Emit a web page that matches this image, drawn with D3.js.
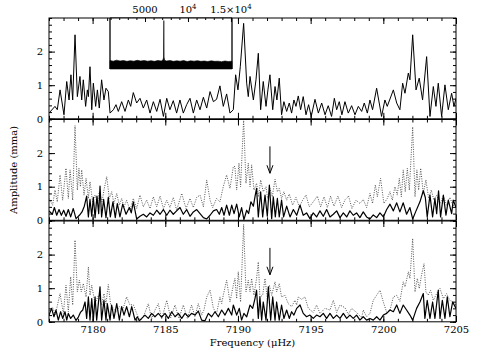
<!DOCTYPE html>
<html>
<head>
<meta charset="utf-8">
<script src="https://cdn.jsdelivr.net/npm/d3@7"></script>
<style>
  body { margin: 0; background: #fff; }
  text { font-family: "DejaVu Serif", serif; font-size: 10px; fill: #000; }
</style>
</head>
<body>
<svg id="chart" width="485" height="363"></svg>
<script>
// ---- data (frequency in µHz, amplitude in mma) ----
const xTicks = [7180, 7185, 7190, 7195, 7200, 7205];
const yTicks = [0, 1, 2];
const insetTicks = [5000, 10000, 15000];
const insetTickLabels = [["5000", ""], ["10", "4"], ["1.5×10", "4"]];

// top panel: amplitude spectrum of the data
const topFreq = [7177.00,7177.41,7177.57,7177.76,7178.03,7178.22,7178.38,7178.51,7178.63,7178.79,
  7178.95,7179.13,7179.25,7179.36,7179.52,7179.64,7179.71,7179.82,7179.94,7180.05,
  7180.21,7180.33,7180.46,7180.62,7180.78,7180.92,7181.08,7181.20,7181.43,7181.61,
  7181.77,7182.00,7182.23,7182.46,7182.62,7182.80,7183.03,7183.26,7183.49,7183.72,
  7183.95,7184.18,7184.41,7184.64,7184.87,7185.10,7185.32,7185.55,7185.78,7186.01,
  7186.24,7186.47,7186.70,7186.93,7187.16,7187.39,7187.62,7187.85,7188.08,7188.31,
  7188.53,7188.76,7188.99,7189.22,7189.45,7189.68,7189.84,7190.00,7190.16,7190.39,
  7190.60,7190.71,7190.83,7191.06,7191.24,7191.40,7191.56,7191.74,7191.93,7192.06,
  7192.20,7192.39,7192.55,7192.68,7192.84,7193.00,7193.16,7193.35,7193.53,7193.69,
  7193.85,7193.99,7194.15,7194.31,7194.49,7194.68,7194.86,7195.04,7195.30,7195.53,
  7195.76,7195.99,7196.21,7196.44,7196.63,7196.79,7196.97,7197.15,7197.36,7197.59,
  7197.82,7198.05,7198.28,7198.51,7198.69,7198.90,7199.08,7199.26,7199.54,7199.88,
  7200.11,7200.27,7200.69,7200.92,7201.14,7201.33,7201.49,7201.72,7201.83,7202.02,
  7202.25,7202.47,7202.70,7202.98,7203.21,7203.44,7203.62,7203.78,7204.01,7204.24,
  7204.47,7204.70,7204.86,7205.00];
const topAmp = [0.17,0.37,0.27,0.86,0.12,1.11,0.56,1.31,0.56,2.50,
  0.66,1.26,0.56,1.16,0.37,0.86,0.66,1.55,0.27,1.06,
  0.37,0.86,0.32,1.16,0.56,0.91,0.81,0.17,0.27,0.42,
  0.22,0.51,0.22,0.56,0.37,0.78,0.47,0.61,0.32,0.56,
  0.17,0.51,0.22,0.58,0.07,0.61,0.27,0.54,0.17,0.56,
  0.17,0.42,0.61,0.17,0.56,0.27,0.64,0.32,0.81,0.51,
  0.58,0.98,0.37,0.74,0.17,0.27,1.31,0.86,1.55,2.84,
  1.06,0.66,1.26,0.56,1.16,1.95,0.27,1.11,0.37,0.86,
  1.31,0.27,0.96,0.56,1.21,0.12,0.51,0.22,0.47,0.17,
  0.56,0.37,0.68,0.27,0.66,0.12,0.42,0.07,0.58,0.17,
  0.47,0.12,0.39,0.07,0.61,0.27,0.51,0.12,0.51,0.17,
  0.39,0.12,0.37,0.22,0.47,0.17,0.56,0.27,0.91,0.07,
  0.56,0.37,0.86,0.47,0.27,1.06,0.76,1.36,1.16,2.50,
  0.86,1.21,0.56,1.85,0.07,0.96,0.37,1.06,0.07,1.01,
  0.27,0.76,0.37,0.61];

// middle panel: residuals (solid) and original spectrum (dotted)
const midFreq = [7177.00,7177.23,7177.37,7177.53,7177.69,7177.85,7178.01,7178.17,7178.33,7178.49,
  7178.67,7178.86,7179.09,7179.27,7179.43,7179.59,7179.71,7179.82,7179.94,7180.05,
  7180.17,7180.30,7180.42,7180.51,7180.62,7180.76,7180.92,7181.08,7181.22,7181.40,
  7181.56,7181.70,7181.88,7182.07,7182.30,7182.53,7182.66,7182.80,7183.03,7183.26,
  7183.49,7183.72,7183.95,7184.18,7184.41,7184.64,7184.87,7185.10,7185.32,7185.55,
  7185.78,7186.01,7186.24,7186.47,7186.70,7186.93,7187.16,7187.39,7187.62,7187.85,
  7188.08,7188.31,7188.53,7188.72,7188.88,7189.04,7189.22,7189.41,7189.57,7189.73,
  7189.91,7190.09,7190.25,7190.41,7190.60,7190.73,7190.89,7191.06,7191.19,7191.28,
  7191.40,7191.56,7191.70,7191.86,7192.02,7192.16,7192.32,7192.43,7192.57,7192.71,
  7192.84,7193.00,7193.14,7193.35,7193.58,7193.81,7194.04,7194.27,7194.49,7194.72,
  7194.95,7195.18,7195.41,7195.64,7195.87,7196.10,7196.33,7196.56,7196.79,7197.02,
  7197.25,7197.48,7197.70,7197.93,7198.16,7198.39,7198.62,7198.85,7199.08,7199.31,
  7199.54,7199.77,7200.00,7200.23,7200.46,7200.69,7200.92,7201.14,7201.37,7201.60,
  7201.83,7202.02,7202.25,7202.52,7202.75,7202.89,7203.02,7203.21,7203.39,7203.55,
  7203.67,7203.80,7203.94,7204.13,7204.31,7204.47,7204.70,7204.81,7205.00];
const midAmp = [0.28,0.18,0.38,0.15,0.32,0.15,0.30,0.12,0.32,0.10,
  0.35,0.05,0.15,0.25,0.42,0.72,0.10,0.62,0.12,0.68,
  0.08,0.72,0.20,1.02,0.10,0.62,0.08,0.68,0.10,0.55,
  0.08,0.50,0.10,0.48,0.18,0.38,0.22,0.55,0.04,0.12,
  0.18,0.10,0.22,0.15,0.30,0.18,0.32,0.15,0.30,0.18,
  0.28,0.38,0.18,0.32,0.12,0.25,0.32,0.20,0.08,0.04,
  0.15,0.28,0.32,0.18,0.38,0.15,0.45,0.15,0.45,0.20,
  0.48,0.10,0.38,0.02,0.30,0.20,0.55,0.42,0.75,0.95,
  0.10,0.85,0.10,0.75,0.12,1.05,0.05,0.70,0.10,0.65,
  0.10,0.60,0.10,0.42,0.10,0.32,0.15,0.45,0.15,0.22,
  0.05,0.22,0.10,0.28,0.12,0.32,0.10,0.18,0.28,0.08,
  0.22,0.10,0.28,0.15,0.22,0.08,0.25,0.10,0.04,0.16,
  0.08,0.22,0.10,0.32,0.48,0.28,0.52,0.25,0.52,0.18,
  0.38,0.04,0.28,0.55,0.88,0.68,0.10,0.75,0.10,0.65,
  0.20,0.88,0.10,0.75,0.15,0.60,0.20,0.60,0.38];

const midDotFreq = [7177.00,7177.25,7177.41,7177.57,7177.76,7177.94,7178.17,7178.33,7178.45,7178.63,
  7178.79,7178.95,7179.06,7179.16,7179.25,7179.41,7179.55,7179.71,7179.82,7180.00,
  7180.17,7180.33,7180.46,7180.65,7180.78,7180.97,7181.15,7181.31,7181.47,7181.66,
  7181.84,7182.00,7182.16,7182.34,7182.57,7182.80,7183.03,7183.26,7183.49,7183.72,
  7183.95,7184.18,7184.41,7184.64,7184.87,7185.10,7185.32,7185.55,7185.78,7186.13,
  7186.43,7186.70,7186.93,7187.16,7187.39,7187.62,7187.85,7188.08,7188.26,7188.53,
  7188.76,7188.99,7189.22,7189.45,7189.68,7189.79,7189.91,7190.07,7190.18,7190.39,
  7190.55,7190.71,7190.83,7190.94,7191.10,7191.28,7191.42,7191.56,7191.74,7191.93,
  7192.04,7192.20,7192.36,7192.55,7192.71,7192.84,7193.00,7193.16,7193.35,7193.53,
  7193.76,7193.99,7194.22,7194.45,7194.68,7194.91,7195.18,7195.46,7195.69,7195.92,
  7196.15,7196.37,7196.60,7196.88,7197.13,7197.38,7197.61,7197.84,7198.12,7198.39,
  7198.62,7198.85,7199.08,7199.26,7199.45,7199.59,7199.81,7200.04,7200.27,7200.46,
  7200.62,7200.80,7200.96,7201.10,7201.24,7201.37,7201.51,7201.65,7201.79,7202.02,
  7202.18,7202.31,7202.43,7202.57,7202.75,7202.93,7203.12,7203.30,7203.48,7203.67,
  7203.90,7204.13,7204.35,7204.58,7204.81,7205.00];
const midDotAmp = [0.65,0.45,0.90,0.55,1.35,0.60,1.55,0.65,1.50,0.60,
  2.82,0.90,1.55,1.00,1.50,0.75,1.25,0.65,1.15,0.55,
  0.75,0.50,0.85,0.55,0.90,1.30,0.65,0.85,0.50,0.80,
  0.45,0.65,0.40,0.60,0.30,0.65,0.35,0.75,0.40,0.60,
  0.35,0.70,0.40,0.72,0.35,0.60,0.38,0.68,0.30,0.80,
  0.35,0.65,0.38,0.68,0.75,0.40,1.20,0.60,0.38,0.65,
  0.55,1.00,1.35,0.95,1.60,1.60,0.90,1.70,1.00,3.00,
  1.10,1.70,1.00,1.65,0.90,1.10,0.70,1.20,0.85,1.00,
  0.65,0.95,0.70,1.22,0.85,0.95,0.65,0.85,0.60,0.78,
  0.45,0.68,0.40,0.60,0.75,0.40,0.55,0.72,0.40,0.70,
  0.38,0.72,0.42,0.72,0.38,0.62,0.72,0.35,0.60,0.50,
  0.62,0.38,0.80,0.50,1.05,0.70,1.25,0.50,0.65,0.85,
  0.60,1.00,0.75,1.25,0.70,1.50,0.85,1.55,0.90,2.78,
  0.70,1.50,0.90,1.55,0.80,1.20,0.65,0.90,0.60,0.75,
  0.50,0.72,0.45,0.68,0.42,0.60];

// bottom panel: residuals (solid) and original spectrum (dotted)
const botFreq = [7177.00,7177.18,7177.34,7177.48,7177.64,7177.80,7177.94,7178.10,7178.22,7178.33,
  7178.49,7178.67,7178.86,7179.02,7179.16,7179.32,7179.48,7179.59,7179.71,7179.82,
  7179.94,7180.05,7180.17,7180.28,7180.51,7180.62,7180.78,7180.92,7181.01,7181.20,
  7181.31,7181.47,7181.66,7181.84,7182.00,7182.16,7182.34,7182.53,7182.69,7182.92,
  7183.08,7183.21,7183.38,7183.60,7183.83,7184.06,7184.29,7184.52,7184.75,7184.98,
  7185.21,7185.44,7185.67,7185.90,7186.13,7186.36,7186.59,7186.81,7187.04,7187.27,
  7187.50,7187.73,7187.96,7188.19,7188.42,7188.65,7188.88,7189.11,7189.34,7189.57,
  7189.68,7189.91,7190.09,7190.25,7190.41,7190.60,7190.83,7191.01,7191.17,7191.28,
  7191.40,7191.51,7191.63,7191.74,7191.93,7192.09,7192.25,7192.39,7192.55,7192.66,
  7192.84,7193.00,7193.16,7193.35,7193.53,7193.69,7193.85,7194.04,7194.27,7194.49,
  7194.72,7194.95,7195.18,7195.41,7195.64,7195.87,7196.10,7196.33,7196.56,7196.79,
  7197.02,7197.25,7197.48,7197.70,7197.93,7198.16,7198.39,7198.62,7198.85,7199.08,
  7199.31,7199.54,7199.77,7200.00,7200.23,7200.46,7200.69,7200.92,7201.14,7201.37,
  7201.60,7201.83,7202.02,7202.29,7202.52,7202.75,7202.86,7203.02,7203.21,7203.39,
  7203.55,7203.78,7203.90,7204.06,7204.24,7204.40,7204.58,7204.77,7205.00];
const botAmp = [0.20,0.40,0.15,0.35,0.05,0.30,0.10,0.30,0.05,0.25,
  0.10,0.20,0.04,0.14,0.28,0.35,0.59,0.10,0.74,0.05,
  0.69,0.05,0.74,0.05,1.04,0.05,0.64,0.05,0.54,0.05,
  0.50,0.10,0.54,0.05,0.45,0.20,0.45,0.15,0.45,0.05,
  0.15,0.03,0.10,0.20,0.10,0.25,0.15,0.25,0.14,0.25,
  0.10,0.30,0.15,0.25,0.10,0.25,0.15,0.25,0.20,0.32,
  0.05,0.03,0.25,0.15,0.30,0.15,0.35,0.20,0.40,0.20,
  0.50,0.20,0.40,0.05,0.25,0.15,0.50,0.40,0.69,0.94,
  0.10,0.74,0.05,0.59,0.05,1.04,0.05,0.74,0.05,0.59,
  0.05,0.50,0.10,0.35,0.10,0.30,0.20,0.40,0.50,0.25,
  0.15,0.20,0.10,0.20,0.15,0.25,0.10,0.25,0.10,0.20,
  0.10,0.25,0.10,0.20,0.10,0.20,0.05,0.15,0.05,0.10,
  0.05,0.15,0.05,0.20,0.25,0.35,0.30,0.50,0.25,0.50,
  0.35,0.20,0.05,0.40,0.59,0.84,0.10,0.64,0.10,0.59,
  0.10,0.94,0.10,0.64,0.10,0.74,0.15,0.59,0.40];

const botDotFreq = [7177.00,7177.25,7177.44,7177.76,7177.99,7178.17,7178.33,7178.49,7178.63,7178.79,
  7178.95,7179.09,7179.22,7179.36,7179.55,7179.71,7179.82,7179.94,7180.17,7180.40,
  7180.62,7180.78,7180.92,7181.08,7181.24,7181.43,7181.61,7181.84,7182.07,7182.34,
  7182.57,7182.80,7183.03,7183.26,7183.54,7183.83,7184.06,7184.29,7184.52,7184.75,
  7185.10,7185.37,7185.67,7185.94,7186.24,7186.52,7186.81,7187.04,7187.27,7187.50,
  7187.66,7187.85,7188.08,7188.31,7188.53,7188.76,7188.88,7188.99,7189.22,7189.45,
  7189.68,7189.79,7189.91,7190.02,7190.18,7190.39,7190.55,7190.71,7190.83,7190.94,
  7191.10,7191.28,7191.40,7191.51,7191.70,7191.86,7192.02,7192.16,7192.32,7192.55,
  7192.66,7192.84,7193.00,7193.23,7193.46,7193.69,7193.92,7194.04,7194.15,7194.38,
  7194.61,7194.84,7195.18,7195.41,7195.64,7195.99,7196.33,7196.56,7196.79,7197.02,
  7197.36,7197.59,7197.82,7198.16,7198.51,7198.62,7198.85,7199.08,7199.31,7199.54,
  7199.77,7200.00,7200.23,7200.46,7200.69,7200.92,7201.14,7201.37,7201.49,7201.60,
  7201.72,7201.83,7202.02,7202.18,7202.34,7202.47,7202.63,7202.80,7202.93,7203.09,
  7203.25,7203.44,7203.67,7203.90,7204.13,7204.35,7204.58,7204.81,7205.00];
const botDotAmp = [0.32,0.42,0.22,0.84,0.25,1.09,0.30,1.34,0.50,2.43,
  0.89,1.24,0.89,1.14,0.74,1.63,0.79,1.09,0.54,0.79,
  0.50,0.84,0.54,1.11,0.51,0.40,0.28,0.45,0.35,0.74,
  0.50,0.51,0.25,0.02,0.20,0.54,0.08,0.35,0.54,0.08,
  0.64,0.12,0.50,0.10,0.50,0.10,0.50,0.15,0.54,0.20,
  0.35,0.74,0.94,0.40,0.25,0.74,0.54,0.79,1.24,0.59,
  1.09,1.29,0.69,1.49,0.59,2.90,0.89,1.24,0.89,1.29,
  0.79,1.29,1.78,0.74,0.79,1.29,0.69,1.09,0.79,1.19,
  0.89,1.14,0.74,0.79,0.54,0.45,0.64,0.50,0.74,0.67,
  0.74,0.40,0.28,0.50,0.25,0.40,0.35,0.64,0.28,0.50,
  0.42,0.22,0.40,0.28,0.12,0.35,0.15,0.25,0.64,0.79,
  0.94,0.59,0.28,0.35,0.74,0.79,0.61,1.19,1.04,1.24,
  1.49,1.29,2.48,0.89,1.29,0.99,1.39,1.73,0.89,0.79,
  0.94,0.64,0.84,0.99,0.69,0.84,0.64,0.59,0.50];

// inset: spectrum over the whole frequency range
const insetFreq = [930,1300,1700,2100,2500,2900,3300,3700,4100,4500,
  4900,5300,5700,6100,6500,6900,7100,7160,7190,7220,
  7280,7500,7900,8300,8700,9100,9500,9900,10300,10700,
  11100,11500,11900,12300,12700,13100,13500,13900,14300,14700,15120];
const insetAmp = [0.50,0.46,0.52,0.47,0.50,0.45,0.49,0.46,0.51,0.47,
  0.50,0.46,0.49,0.45,0.50,0.47,0.55,0.70,2.85,0.70,
  0.52,0.47,0.50,0.45,0.48,0.46,0.50,0.44,0.48,0.46,
  0.49,0.45,0.47,0.44,0.48,0.45,0.46,0.43,0.47,0.44,0.46];

// arrows marking the frequency of interest (middle and bottom panels)
const arrowFreq = 7192.2;
const arrowFrom = 2.2;
const arrowTo = 1.4;

// ---- drawing ----
const svg = d3.select("#chart");
const left = 49, right = 456;
const panelTops = [18, 119.5, 221];
const panelH = 100.8;

const x = d3.scaleLinear().domain([7177, 7205]).range([left, right]);
const xMinor = d3.range(7177, 7205.5, 1);
const yMinor = d3.range(0, 3.01, 0.2);

const panels = [
  { solid: [topFreq, topAmp], dotted: null, arrow: false },
  { solid: [midFreq, midAmp], dotted: [midDotFreq, midDotAmp], arrow: true },
  { solid: [botFreq, botAmp], dotted: [botDotFreq, botDotAmp], arrow: true }
];

function styleAxis(g) {
  g.select(".domain").remove();
  g.selectAll("line").attr("stroke", "#000");
}

panels.forEach((p, i) => {
  const top = panelTops[i];
  const y = d3.scaleLinear().domain([0, 3]).range([top + panelH, top]);
  const g = svg.append("g");

  g.append("clipPath").attr("id", "clip" + i)
    .append("rect").attr("x", left).attr("y", top)
    .attr("width", right - left).attr("height", panelH);

  const line = d3.line().x(d => x(d[0])).y(d => y(d[1]));
  const plot = g.append("g").attr("clip-path", `url(#clip${i})`);

  if (p.dotted) {
    plot.append("path")
      .datum(d3.zip(p.dotted[0], p.dotted[1]))
      .attr("d", line)
      .attr("fill", "none")
      .attr("stroke", "#444")
      .attr("stroke-width", 0.9)
      .attr("stroke-dasharray", "1,1.4");
  }
  plot.append("path")
    .datum(d3.zip(p.solid[0], p.solid[1]))
    .attr("d", line)
    .attr("fill", "none")
    .attr("stroke", "#000")
    .attr("stroke-width", i == 0 ? 1 : 1.2)
    .attr("stroke-linejoin", "round");

  // ticks on all four sides, pointing inwards
  g.append("g").attr("transform", `translate(0,${y(0)})`)
    .call(d3.axisBottom(x).tickValues(xMinor).tickSize(-3).tickFormat("")).call(styleAxis);
  g.append("g").attr("transform", `translate(0,${y(0)})`)
    .call(d3.axisBottom(x).tickValues(xTicks).tickSize(-6).tickPadding(4)
      .tickFormat(i == 2 ? d3.format("d") : "")).call(styleAxis);
  g.append("g").attr("transform", `translate(0,${top})`)
    .call(d3.axisTop(x).tickValues(xMinor).tickSize(-3).tickFormat("")).call(styleAxis);
  g.append("g").attr("transform", `translate(0,${top})`)
    .call(d3.axisTop(x).tickValues(xTicks).tickSize(-6).tickFormat("")).call(styleAxis);
  g.append("g").attr("transform", `translate(${left},0)`)
    .call(d3.axisLeft(y).tickValues(yMinor).tickSize(-3).tickFormat("")).call(styleAxis);
  g.append("g").attr("transform", `translate(${left},0)`)
    .call(d3.axisLeft(y).tickValues(yTicks).tickSize(-6).tickPadding(6)
      .tickFormat(d3.format("d"))).call(styleAxis);
  g.append("g").attr("transform", `translate(${right},0)`)
    .call(d3.axisRight(y).tickValues(yMinor).tickSize(-3).tickFormat("")).call(styleAxis);
  g.append("g").attr("transform", `translate(${right},0)`)
    .call(d3.axisRight(y).tickValues(yTicks).tickSize(-6).tickFormat("")).call(styleAxis);

  g.append("rect")
    .attr("x", left).attr("y", top)
    .attr("width", right - left).attr("height", panelH)
    .attr("fill", "none").attr("stroke", "#000").attr("stroke-width", 1);

  if (p.arrow) {
    const ax = x(arrowFreq), y1 = y(arrowFrom), y2 = y(arrowTo);
    g.append("line").attr("x1", ax).attr("x2", ax).attr("y1", y1).attr("y2", y2)
      .attr("stroke", "#000").attr("stroke-width", 1);
    g.append("path")
      .attr("d", `M${ax - 3},${y2 - 8} L${ax},${y2} L${ax + 3},${y2 - 8}`)
      .attr("fill", "none").attr("stroke", "#000").attr("stroke-width", 1);
  }

  // inset in the top panel
  if (i == 0) {
    const ix = d3.scaleLinear().domain([930, 15120]).range([110, 232]);
    const iy = d3.scaleLinear().domain([0, 3]).range([69, top]);
    const ig = g.append("g");
    ig.append("rect").attr("x", 110).attr("y", top).attr("width", 122).attr("height", 69 - top)
      .attr("fill", "#fff");
    const area = d3.area().x(d => ix(d[0])).y0(iy(0)).y1(d => iy(d[1]));
    ig.append("path").datum(d3.zip(insetFreq, insetAmp))
      .attr("d", area).attr("fill", "#000").attr("stroke", "#000").attr("stroke-width", 0.6);
    ig.append("g").attr("transform", `translate(0,${top})`)
      .call(d3.axisTop(ix).tickValues(d3.range(1000, 15001, 1000)).tickSize(-2).tickFormat(""))
      .call(styleAxis);
    ig.append("g").attr("transform", `translate(0,${top})`)
      .call(d3.axisTop(ix).tickValues(insetTicks).tickSize(-4).tickFormat(""))
      .call(styleAxis);
    ig.append("line").attr("x1", 110).attr("x2", 110).attr("y1", top).attr("y2", 69)
      .attr("stroke", "#000").attr("stroke-width", 1.3);
    ig.append("line").attr("x1", 232).attr("x2", 232).attr("y1", top).attr("y2", 69)
      .attr("stroke", "#000").attr("stroke-width", 1.3);
    ig.append("line").attr("x1", 110).attr("x2", 232).attr("y1", top).attr("y2", top)
      .attr("stroke", "#000").attr("stroke-width", 1);
    insetTicks.forEach((v, k) => {
      const t = ig.append("text").attr("x", ix(v)).attr("y", 13).attr("text-anchor", "middle");
      t.append("tspan").text(insetTickLabels[k][0]);
      if (insetTickLabels[k][1]) {
        t.append("tspan").attr("dy", -4).style("font-size", "7px").text(insetTickLabels[k][1]);
      }
    });
  }
});

// axis titles
svg.append("text")
  .attr("x", (left + right) / 2).attr("y", 346)
  .attr("text-anchor", "middle")
  .text("Frequency (μHz)");
svg.append("text")
  .attr("transform", `translate(17,${(panelTops[0] + panelTops[2] + panelH) / 2}) rotate(-90)`)
  .attr("text-anchor", "middle")
  .text("Amplitude (mma)");
</script>
</body>
</html>
